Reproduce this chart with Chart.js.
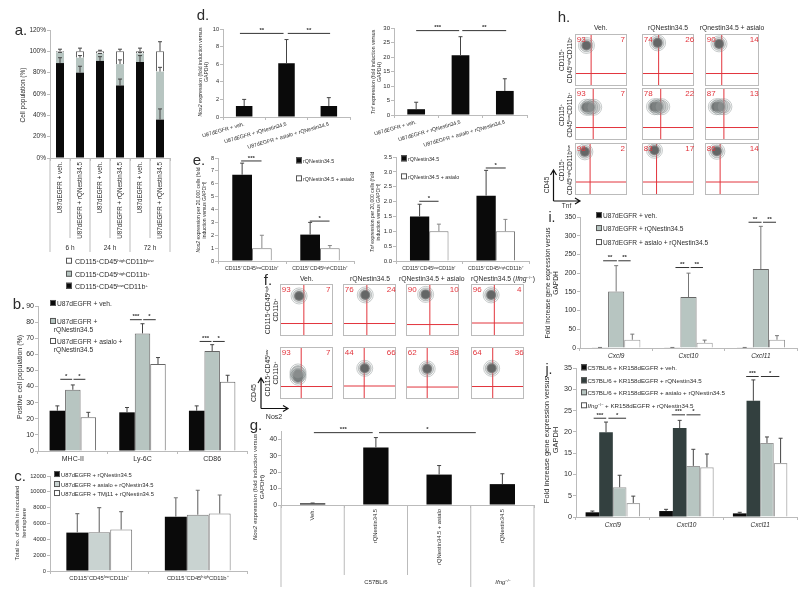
<!DOCTYPE html>
<html>
<head>
<meta charset="utf-8">
<title>Figure</title>
<script src="https://cdn.jsdelivr.net/npm/chart.js@4"></script>
<style>
body { margin: 0; background: #fff; width: 800px; height: 599px; overflow: hidden; position: relative; font-family: "Liberation Sans", Arial, sans-serif; color: #2c2c2c; filter: blur(.3px); }
canvas { position: absolute; }
.t { position: absolute; white-space: nowrap; line-height: 1.2; text-align: center; }
.t sup { font-size: .62em; vertical-align: baseline; position: relative; top: -.45em; line-height: 0; }
.sw { display: inline-block; width: 4px; height: 4px; margin-right: 1px; border: 1px solid #555; vertical-align: 0; }
.flow { outline: 1px solid #bbb; outline-offset: -1px; }
</style>
</head>
<body>
<svg width="800" height="599" style="position:absolute;left:0;top:0;z-index:2">
  <path d="M261 408.5V379M258 383l3-5 3 5M261 408.5H287M283 405.5l5 3-5 3M553.5 201V171M550.5 175l3-5 3 5M553.5 201H579M575 198l5 3-5 3" fill="none" stroke="#111" stroke-width="1.2"/>
</svg>
<script>
const low = 'CD115⁺CD45ˡᵒʷCD11b⁺'
const high = 'CD115⁺CD45ʰⁱᵍʰCD11b⁺'

const catsA = ['U87dEGFR + veh.', 'U87dEGFR + rQNestin34.5', 'U87dEGFR + veh.', 'U87dEGFR + rQNestin34.5', 'U87dEGFR + veh.', 'U87dEGFR + rQNestin34.5']
const aBlack = [89, 80, 91, 68, 90, 36]
const aGrey = [10, 14, 7, 20, 8, 45]
const aWhite = [1, 6, 2, 12, 2, 19]
const aBlackErr = [94, 86, 95, 74, 96, 46]
const aGreyErr = [99, 96, 98, 92, 99, 85]
const aWhiteErr = [102, 103, 101, 102, 103, 109]

const catsB = ['MHC-II', 'Ly-6C', 'CD86']
const bVeh = [25, 24, 25]
const bRq = [38, 73, 62]
const bAsialo = [21, 54, 43]
const bVehErr = [28, 27, 28]
const bRqErr = [41, 79, 66]
const bAsialoErr = [24, 58, 47]

const catsC = [low, high]
const cRq = [4850, 6850]
const cAsialo = [4900, 7100]
const cTm = [5250, 7250]
const cRqErr = [7250, 9250]
const cAsialoErr = [8000, 10200]
const cTmErr = [7500, 9600]

const catsD = ['U87dEGFR + veh.', 'U87dEGFR + rQNestin34.5', 'U87dEGFR + asialo + rQNestin34.5']
const dNos2 = [1.25, 6.1, 1.25]
const dNos2Err = [2, 8.8, 2.2]
const dTnf = [2, 20.6, 8.3]
const dTnfErr = [4.4, 27, 12.5]

const catsE = [low, high]
const eNosRq = [6.7, 2.05]
const eNosAsialo = [1, 1]
const eNosRqErr = [7.6, 3]
const eNosAsialoErr = [2, 1.2]
const eTnfRq = [1.5, 2.2]
const eTnfAsialo = [1, 1]
const eTnfRqErr = [1.91, 3.05]
const eTnfAsialoErr = [1.24, 1.4]

const catsG = ['Veh.', 'rQNestin34.5', 'rQNestin34.5 + asialo', 'rQNestin34.5']
const gNos2 = [1, 35, 18.5, 12.7]
const gNos2Err = [1.2, 41, 24, 19]

const catsI = ['Cxcl9', 'Cxcl10', 'Cxcl11']
const iVeh = [1.5, 1.5, 1.5]
const iRq = [151, 136, 211]
const iAsialo = [22, 14, 22]
const iRqErr = [220, 200, 325]
const iAsialoErr = [37, 21, 33]

const jVeh = [1.1, 1.4, 0.85]
const jRq = [19.9, 20.9, 27.3]
const jAsialo = [7, 12, 17.4]
const jIfng = [3.3, 11.7, 12.7]
const jVehErr = [1.4, 1.8, 1.1]
const jRqErr = [22.3, 22.7, 32.2]
const jAsialoErr = [9.8, 15.9, 18.8]
const jIfngErr = [4.9, 14.8, 18.5]

// flow plots: left %, right %, gate x, gate y, blob x, blob y
const fLeft = [93, 76, 90, 96, 93, 44, 62, 64]
const fRight = [7, 24, 10, 4, 7, 66, 38, 36]
const fGateX = [45, 45, 45, 44, 40, 40, 40, 41]
const fGateY = [24, 24, 22, 25, 24, 25, 23, 24]
const fBlobX = [36, 42, 37, 38, 34, 41, 40, 39]
const fBlobY = [77, 79, 80, 79, 47, 59, 58, 59]
const fShape = ['r', 'r', 'r', 'r', 'v', 'r', 'r', 'r']

const hLeft = [93, 74, 90, 93, 78, 87, 98, 83, 86]
const hRight = [7, 26, 14, 7, 22, 13, 2, 17, 14]
const hGateX = [31, 32, 31, 35, 36, 35, 29, 28, 28]
const hGateY = [24, 24, 24, 24, 24, 24, 25, 25, 25]
const hBlobX = [22, 30, 26, 25, 27, 24, 19, 24, 22]
const hBlobY = [78, 83, 81, 63, 64, 64, 83, 86, 84]
const hShape = ['r', 'r', 'r', 'h', 'h', 'h', 'r', 'r', 'r']

const BLACK = '#0a0a0a'
const GREY = '#b7c5c1'
const LINE = '#bbbbbb'
const TXT = '#2c2c2c'
Chart.defaults.font.family = '"Liberation Sans", Arial, sans-serif'
Chart.defaults.color = TXT
Chart.defaults.animation = false

Chart.register({
  id: 'marks',
  afterDatasetsDraw(chart, args, o) {
    const ctx = chart.ctx
    const xs = chart.scales.x
    const ys = chart.scales.y
    if (!xs || !ys || !o.on) return
    ctx.save()
    chart.data.datasets.forEach((d, i) => {
      if (!d.err) return
      ctx.strokeStyle = d.errColor || '#444'
      ctx.lineWidth = d.errWidth || 1
      chart.getDatasetMeta(i).data.forEach((el, j) => {
        const top = ys.getPixelForValue(d.err[j])
        ctx.beginPath()
        ctx.moveTo(el.x, el.y)
        ctx.lineTo(el.x, top)
        ctx.moveTo(el.x - 2, top)
        ctx.lineTo(el.x + 2, top)
        ctx.stroke()
      })
    })
    ;(o.seps || []).forEach(([i, len]) => {
      const x = xs.getPixelForValue(i - 0.5)
      ctx.strokeStyle = LINE
      ctx.lineWidth = 1
      ctx.beginPath()
      ctx.moveTo(x, ys.bottom)
      ctx.lineTo(x, ys.bottom + len)
      ctx.stroke()
    })
    ;(o.sig || []).forEach(([a, b, v, t]) => {
      const y = ys.getPixelForValue(v)
      const x1 = xs.getPixelForValue(a)
      const x2 = xs.getPixelForValue(b)
      ctx.strokeStyle = '#333'
      ctx.lineWidth = 1
      ctx.beginPath()
      ctx.moveTo(x1, y)
      ctx.lineTo(x2, y)
      ctx.stroke()
      ctx.fillStyle = '#333'
      ctx.font = 'bold 6px "Liberation Sans"'
      ctx.textAlign = 'center'
      ctx.textBaseline = 'middle'
      ctx.fillText(t, (x1 + x2) / 2, y - 3)
    })
    ctx.restore()
  }
})

const addCanvas = (x, y, w, h) => {
  const c = document.createElement('canvas')
  c.width = w
  c.height = h
  c.style.left = x + 'px'
  c.style.top = y + 'px'
  document.body.appendChild(c)
  return c
}

const bars = (p) => {
  const lm = p.lm || 30
  const bm = p.bm || 14
  const tm = 12
  const c = addCanvas(p.left - lm, p.top - tm, lm + p.right - p.left + 3, tm + p.bottom - p.top + bm)
  new Chart(c, {
    type: 'bar',
    data: { labels: p.cats, datasets: p.sets },
    options: {
      responsive: false,
      layout: { padding: { top: tm, right: 3, bottom: 0, left: 0 } },
      plugins: { legend: { display: false }, tooltip: { enabled: false }, marks: { on: true, seps: p.seps, sig: p.sig } },
      scales: {
        x: {
          stacked: !!p.stacked,
          grid: { drawOnChartArea: false, color: LINE, tickLength: 3 },
          border: { color: LINE },
          ticks: {
            autoSkip: false,
            maxRotation: p.rot || 0,
            minRotation: p.rot || 0,
            padding: 1,
            font: { size: p.catSize || 6, style: p.italic ? 'italic' : 'normal' }
          },
          afterFit: (s) => { s.height = bm; s.paddingLeft = 0; s.paddingRight = 0 }
        },
        y: {
          stacked: !!p.stacked,
          min: 0,
          max: p.max,
          grid: { drawOnChartArea: false, color: LINE, tickLength: 3 },
          border: { color: LINE },
          ticks: {
            stepSize: p.step,
            padding: 1,
            font: { size: p.tickSize || 6 },
            callback: p.fmt || ((v) => v)
          },
          afterFit: (s) => { s.width = lm; s.paddingTop = 0; s.paddingBottom = 0 }
        }
      }
    }
  })
}

const bar = (label, data, err, bg, extra) => Object.assign({
  label, data, err, backgroundColor: bg, barPercentage: 1
}, extra || {})

const line = { borderColor: '#666', borderWidth: 1 }

const RINGS = [
  [8, 'rgba(255,255,255,0)', 'rgba(120,130,130,.6)'],
  [6.5, 'rgba(150,155,155,.45)', 'rgba(110,120,120,.5)'],
  [5, 'rgba(70,70,70,.8)', 'rgba(0,0,0,0)'],
  [3.8, 'rgba(15,15,15,1)', 'rgba(0,0,0,0)'],
  [1, '#e4e9e9', 'rgba(0,0,0,0)']
]

const flow = (x, y, w, h, left, right, gx, gy, bx, by, shape) => {
  const c = addCanvas(x, y, w, h)
  c.className = 'flow'
  const off = shape === 'h' ? [[-3, 0], [3, 0], [11, 0]] : shape === 'v' ? [[0, -5], [0, 0], [0, 5]] : [[0, 0]]
  const sets = RINGS.map(([r, bg, bd], k) => ({
    data: (k === RINGS.length - 1 ? [[0, 0]] : off.slice(0, k > 1 ? 2 : 3)).map(([dx, dy]) => ({ x: bx + dx, y: by + dy, r })),
    backgroundColor: bg,
    borderColor: bd,
    borderWidth: 0.7
  }))
  const red = (pts) => ({ type: 'scatter', data: pts, showLine: true, borderColor: '#e2343c', borderWidth: 1, pointRadius: 0 })
  sets.push(red([{ x: gx, y: 0 }, { x: gx, y: 100 }]))
  sets.push(red([{ x: 0, y: gy }, { x: 100, y: gy }]))
  new Chart(c, {
    type: 'bubble',
    data: { datasets: sets },
    options: {
      responsive: false,
      layout: { autoPadding: false, padding: 0 },
      plugins: { legend: { display: false }, tooltip: { enabled: false } },
      scales: { x: { display: false, min: 0, max: 100 }, y: { display: false, min: 0, max: 100 } }
    }
  })
  txt(x + 6, y + 6, left, { size: 8, color: '#e2343c' })
  txt(x + w - 5, y + 6, right, { size: 8, color: '#e2343c' })
}

function txt(x, y, html, o) {
  o = o || {}
  const d = document.createElement('div')
  d.className = 't'
  d.innerHTML = html
  d.style.left = x + 'px'
  d.style.top = y + 'px'
  d.style.fontSize = (o.size || 6) + 'px'
  d.style.zIndex = 3
  if (o.color) d.style.color = o.color
  if (o.anchor === 'l') {
    d.style.transform = 'translateY(-50%)'
    d.style.textAlign = 'left'
  } else {
    d.style.transform = 'translate(-50%,-50%)' + (o.rot ? ` rotate(${o.rot}deg)` : '')
  }
  document.body.appendChild(d)
}

const sw = (bg) => `<span class="sw" style="background:${bg}"></span>`

// a
bars({
  left: 50, right: 170, top: 30, bottom: 158, max: 120, step: 20, cats: catsA, stacked: true, rot: 90, bm: 96,
  catSize: 6.3, tickSize: 6.5, fmt: (v) => v + '%',
  seps: [[0, 94], [1, 80], [2, 94], [3, 80], [4, 94], [5, 80], [6, 94]],
  sets: [
    bar('black', aBlack, aBlackErr, BLACK, { categoryPercentage: .4 }),
    bar('grey', aGrey, aGreyErr, GREY, { categoryPercentage: .4 }),
    bar('white', aWhite, aWhiteErr, '#fff', Object.assign({ categoryPercentage: .4 }, line))
  ]
})
txt(23, 95, 'Cell population (%)', { size: 6.5, rot: -90 })
txt(70, 248, '6 h', { size: 6.5 })
txt(110, 248, '24 h', { size: 6.5 })
txt(150, 248, '72 h', { size: 6.5 })
txt(66, 262, sw('#fff') + '&nbsp;CD115<sup>+</sup>CD45<sup>high</sup>CD11b<sup>low</sup>', { size: 7.1, anchor: 'l' })
txt(66, 275, sw(GREY) + '&nbsp;CD115<sup>+</sup>CD45<sup>high</sup>CD11b<sup>+</sup>', { size: 7.1, anchor: 'l' })
txt(66, 287, sw(BLACK) + '&nbsp;CD115<sup>+</sup>CD45<sup>low</sup>CD11b<sup>+</sup>', { size: 7.1, anchor: 'l' })

// b
bars({
  left: 38, right: 247, top: 305.7, bottom: 450.7, max: 90, step: 10, cats: catsB, lm: 24, catSize: 7, tickSize: 7, bm: 14,
  sig: [
    [-.18, -.01, 44.5, '*'], [.01, .18, 44.5, '*'],
    [.82, .99, 81.5, '***'], [1.01, 1.19, 81.5, '*'],
    [1.82, 1.99, 68, '***'], [2.01, 2.18, 68, '*']
  ],
  sets: [
    bar('veh', bVeh, bVehErr, BLACK, { categoryPercentage: .667 }),
    bar('rq', bRq, bRqErr, GREY, Object.assign({ categoryPercentage: .667 }, line)),
    bar('asialo', bAsialo, bAsialoErr, '#fff', Object.assign({ categoryPercentage: .667 }, line))
  ]
})
txt(20, 377, 'Positive cell population (%)', { size: 7, rot: -90 })
txt(50, 303.5, sw(BLACK) + 'U87dEGFR + veh.', { size: 6.7, anchor: 'l' })
txt(50, 326, sw(GREY) + 'U87dEGFR +<br>&nbsp; rQNestin34.5', { size: 6.7, anchor: 'l' })
txt(50, 345.5, sw('#fff') + 'U87dEGFR + asialo +<br>&nbsp; rQNestin34.5', { size: 6.7, anchor: 'l' })

// c
bars({
  left: 50, right: 247.4, top: 476, bottom: 571.7, max: 12000, step: 2000, cats: catsC, catSize: 5.8, tickSize: 5.7, bm: 14,
  sets: [
    bar('rq', cRq, cRqErr, BLACK, { categoryPercentage: .668, errColor: '#777', errWidth: 1.2 }),
    bar('asialo', cAsialo, cAsialoErr, '#c9d3d1', { categoryPercentage: .668, errColor: '#777', errWidth: 1.2, borderColor: '#777', borderWidth: 1 }),
    bar('tm', cTm, cTmErr, '#fff', { categoryPercentage: .668, errColor: '#777', errWidth: 1.2, borderColor: '#777', borderWidth: 1 })
  ]
})
txt(20.5, 523, 'Total no. of cells in inoculated<br>hemisphere', { size: 5.7, rot: -90 })
txt(54, 474.5, sw(BLACK) + 'U87dEGFR + rQNestin34.5', { size: 5.8, anchor: 'l' })
txt(54, 484.5, sw('#c9d3d1') + 'U87dEGFR + asialo + rQNestin34.5', { size: 5.8, anchor: 'l' })
txt(54, 494, sw('#fff') + 'U87dEGFR + TMj11 + rQNestin34.5', { size: 5.8, anchor: 'l' })

// d
bars({
  left: 223, right: 350, top: 29, bottom: 117.7, max: 10, step: 1, cats: catsD, rot: 16, lm: 40, bm: 40, catSize: 5.3, tickSize: 5.6,
  sig: [[-.1, .93, 9.5, '**'], [1.03, 2.03, 9.5, '**']],
  sets: [bar('nos2', dNos2, dNos2Err, BLACK, { categoryPercentage: .39 })]
})
txt(203, 72, '<i>Nos2</i> expression (fold induction versus<br>GAPDH)', { size: 5.2, rot: -90 })
bars({
  left: 393.7, right: 527, top: 27.7, bottom: 114.7, max: 30, step: 5, cats: catsD, rot: 16, lm: 40, bm: 40, catSize: 5.3, tickSize: 6,
  sig: [[0, .97, 29.1, '***'], [1.04, 2.03, 29.1, '**']],
  sets: [bar('tnf', dTnf, dTnfErr, BLACK, { categoryPercentage: .4 })]
})
txt(375.5, 71.5, '<i>Tnf</i> expression (fold induction versus<br>GAPDH)', { size: 5.2, rot: -90 })

// e
bars({
  left: 217.5, right: 354, top: 157.7, bottom: 261, max: 8, step: 1, cats: catsE, catSize: 5.2, tickSize: 5.6, lm: 14, bm: 14,
  sig: [[-.16, .14, 7.77, '***'], [.85, 1.14, 3.1, '*']],
  sets: [
    bar('rq', eNosRq, eNosRqErr, BLACK, { categoryPercentage: .58 }),
    bar('asialo', eNosAsialo, eNosAsialoErr, '#fff', { categoryPercentage: .58, errColor: '#888', borderColor: '#777', borderWidth: 1 })
  ]
})
txt(201, 210, '<i>Nos2</i> expression per 20,000 cells (fold<br>induction versus GAPDH)', { size: 5, rot: -90 })
txt(296, 161, sw(BLACK) + 'rQNestin34.5', { size: 5.3, anchor: 'l' })
txt(296, 179, sw('#fff') + 'rQNestin34.5 + asialo', { size: 5.3, anchor: 'l' })
bars({
  left: 395.6, right: 529, top: 156.7, bottom: 261, max: 3.5, step: .5, cats: catsE, catSize: 5.2, tickSize: 6, lm: 18, bm: 14,
  fmt: (v) => v.toFixed(1),
  sig: [[-.15, .14, 2.01, '*'], [.85, 1.15, 3.13, '*']],
  sets: [
    bar('rq', eTnfRq, eTnfRqErr, BLACK, { categoryPercentage: .58 }),
    bar('asialo', eTnfAsialo, eTnfAsialoErr, '#fff', { categoryPercentage: .58, errColor: '#888', borderColor: '#777', borderWidth: 1 })
  ]
})
txt(375, 211.5, '<i>Tnf</i> expression per 20,000 cells (fold<br>induction versus GAPDH)', { size: 5, rot: -90 })
txt(401, 159, sw(BLACK) + 'rQNestin34.5', { size: 5.3, anchor: 'l' })
txt(401, 176.5, sw('#fff') + 'rQNestin34.5 + asialo', { size: 5.3, anchor: 'l' })

// f
const fCols = [280.3, 343.3, 406.3, 471.3]
const fRows = [284, 346.7]
fLeft.forEach((v, i) => {
  flow(fCols[i % 4], fRows[i < 4 ? 0 : 1], 53, 52, v, fRight[i], fGateX[i], fGateY[i], fBlobX[i], fBlobY[i], fShape[i])
})
txt(306.7, 279, 'Veh.', { size: 6.8 })
txt(370, 279, 'rQNestin34.5', { size: 6.8 })
txt(431.7, 279, 'rQNestin34.5 + asialo', { size: 6.8 })
txt(503, 279, 'rQNestin34.5 (<i>Ifng</i><sup>−/−</sup>)', { size: 6.8 })
txt(272, 310, 'CD115<sup>+</sup>CD45<sup>high</sup><br>CD11b<sup>+</sup>', { size: 6.8, rot: -90 })
txt(272, 373, 'CD115<sup>+</sup>CD45<sup>low</sup><br>CD11b<sup>+</sup>', { size: 6.8, rot: -90 })
txt(254, 393, 'CD45', { size: 7, rot: -90 })
txt(274, 416.5, 'Nos2', { size: 7 })

// g
bars({
  left: 281, right: 534.6, top: 430.7, bottom: 505.3, max: 45, step: 5, cats: catsG, rot: 90, lm: 20, bm: 84, catSize: 5.8, tickSize: 6.8,
  seps: [[0, 82], [1, 70], [2, 70], [3, 82], [4, 82]],
  sig: [[.02, .95, 44, '***'], [1.05, 2.58, 44, '*']],
  sets: [bar('nos2', gNos2, gNos2Err, BLACK, { categoryPercentage: .4 })]
})
txt(257.5, 487, '<i>Nos2</i> expression (fold induction versus<br>GAPDH)', { size: 6.2, rot: -90 })
txt(376, 583, 'C57BL/6', { size: 6 })
txt(503, 583, '<i>Ifng</i><sup>−/−</sup>', { size: 6 })

// h
const hCols = [575.3, 642.3, 705.3]
const hRows = [34.3, 88.3, 143.3]
hLeft.forEach((v, i) => {
  flow(hCols[i % 3], hRows[Math.floor(i / 3)], i % 3 === 2 ? 54 : 52.5, 52.5, v, hRight[i], hGateX[i], hGateY[i], hBlobX[i], hBlobY[i], hShape[i])
})
txt(600.7, 28, 'Veh.', { size: 6.8 })
txt(668, 28, 'rQNestin34.5', { size: 6.8 })
txt(732, 28, 'rQnestin34.5 + asialo', { size: 6.8 })
txt(565.5, 60, 'CD115<sup>+</sup><br>CD45<sup>high</sup>CD11b<sup>+</sup>', { size: 6.5, rot: -90 })
txt(565.5, 115, 'CD115<sup>+</sup><br>CD45<sup>low</sup>CD11b<sup>+</sup>', { size: 6.5, rot: -90 })
txt(565.5, 170, 'CD115<sup>+</sup><br>CD45<sup>high</sup>CD11b<sup>low</sup>', { size: 6.5, rot: -90 })
txt(547, 185, 'CD45', { size: 6.5, rot: -90 })
txt(566.5, 205.7, 'Tnf', { size: 6.5 })

// i
bars({
  left: 579.7, right: 796.8, top: 217.3, bottom: 348.3, max: 350, step: 50, cats: catsI, italic: true, lm: 26, catSize: 6.5, tickSize: 6.8, bm: 14,
  sig: [
    [-.18, .01, 233, '**'], [.03, .2, 233, '**'],
    [.82, 1.01, 215, '**'], [1.03, 1.2, 215, '**'],
    [1.83, 2.01, 336, '**'], [2.03, 2.21, 336, '**']
  ],
  sets: [
    bar('veh', iVeh, iVeh, BLACK, { categoryPercentage: .67, errColor: '#777' }),
    bar('rq', iRq, iRqErr, GREY, Object.assign({ categoryPercentage: .67, errColor: '#777' }, line)),
    bar('asialo', iAsialo, iAsialoErr, '#fff', { categoryPercentage: .67, errColor: '#777', borderColor: '#999', borderWidth: 1 })
  ]
})
txt(552, 283, 'Fold increase gene expression versus<br>GAPDH', { size: 6.6, rot: -90 })
txt(596, 215.7, sw(BLACK) + 'U87dEGFR + veh.', { size: 6.6, anchor: 'l' })
txt(596, 229, sw(GREY) + 'U87dEGFR + rQNestin34.5', { size: 6.6, anchor: 'l' })
txt(596, 242.7, sw('#fff') + 'U87dEGFR + asialo + rQNestin34.5', { size: 6.6, anchor: 'l' })
txt(552, 217, 'i.', { size: 14 })

// j
bars({
  left: 576, right: 797.6, top: 368, bottom: 517.3, max: 35, step: 5, cats: catsI, italic: true, lm: 24, catSize: 6.5, tickSize: 7.2, bm: 14,
  sig: [
    [-.26, -.09, 23.2, '***'], [-.06, .18, 23.2, '*'],
    [.8, .98, 24, '***'], [1.0, 1.19, 24, '*'],
    [1.81, 1.98, 33, '***'], [2.01, 2.26, 33, '*']
  ],
  sets: [
    bar('veh', jVeh, jVehErr, BLACK, { categoryPercentage: .74 }),
    bar('rq', jRq, jRqErr, '#33403f', { categoryPercentage: .74 }),
    bar('asialo', jAsialo, jAsialoErr, GREY, { categoryPercentage: .74, borderColor: '#999', borderWidth: 1 }),
    bar('ifng', jIfng, jIfngErr, '#fff', { categoryPercentage: .74, borderColor: '#aaa', borderWidth: 1.2 })
  ]
})
txt(550.5, 440, 'Fold increase gene expression versus<br>GAPDH', { size: 7.5, rot: -90 })
txt(580.5, 368, sw(BLACK) + 'C57BL/6 + KR158dEGFR + veh.', { size: 6.2, anchor: 'l' })
txt(580.5, 380.7, sw('#33403f') + 'C57BL/6 + KR158dEGFR + rQNestin34.5', { size: 6.2, anchor: 'l' })
txt(580.5, 393.3, sw(GREY) + 'C57BL/6 + KR158dEGFR + asialo + rQNestin34.5', { size: 6.2, anchor: 'l' })
txt(580.5, 405.7, sw('#fff') + '<i>Ifng</i><sup>−/−</sup> + KR158dEGFR + rQNestin34.5', { size: 6.2, anchor: 'l' })
txt(549, 369, 'j.', { size: 14 })

// panel letters
txt(21, 30, 'a.', { size: 15 })
txt(203, 15, 'd.', { size: 15 })
txt(199, 160, 'e.', { size: 15 })
txt(19, 304, 'b.', { size: 15 })
txt(20, 476, 'c.', { size: 15 })
txt(268, 280, 'f.', { size: 15 })
txt(256, 425, 'g.', { size: 15 })
txt(564, 17, 'h.', { size: 15 })
</script>
</body>
</html>
